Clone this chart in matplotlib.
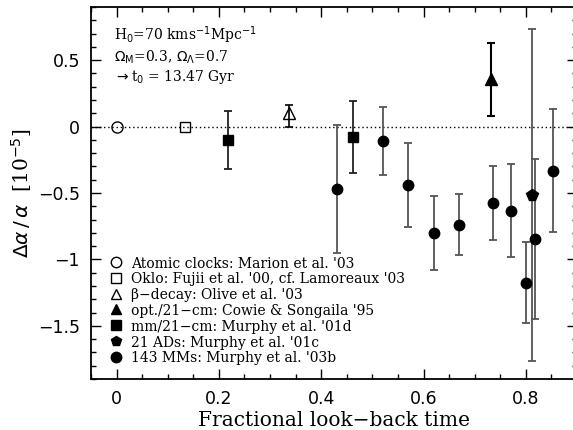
import matplotlib
matplotlib.use("Agg")
import matplotlib.pyplot as plt
from matplotlib.ticker import MultipleLocator, FuncFormatter

# ---- data ----
atomic_x = [0.0]
atomic_y = [0.0]

oklo_x = [0.133]
oklo_y = [0.0]

beta_x = [0.337]
beta_y = [0.10]
beta_lo = [0.10]
beta_hi = [0.06]

cowie_x = [0.731]
cowie_y = [0.358]
cowie_lo = [0.28]
cowie_hi = [0.27]

mm_x = [0.217, 0.462]
mm_y = [-0.10, -0.076]
mm_err = [0.22, 0.272]

ads_x = [0.812]
ads_y = [-0.515]
ads_err = [1.25]

mms_x = [0.43, 0.52, 0.569, 0.62, 0.669, 0.736, 0.771, 0.80, 0.818, 0.854]
mms_y = [-0.47, -0.106, -0.44, -0.80, -0.738, -0.573, -0.635, -1.175, -0.846, -0.332]
mms_err = [0.485, 0.255, 0.313, 0.28, 0.23, 0.278, 0.35, 0.307, 0.603, 0.463]

legend_labels = [
    "Atomic clocks: Marion et al. '03",
    "Oklo: Fujii et al. '00, cf. Lamoreaux '03",
    "\u03b2\u2212decay: Olive et al. '03",
    "opt./21\u2212cm: Cowie & Songaila '95",
    "mm/21\u2212cm: Murphy et al. '01d",
    "21 ADs: Murphy et al. '01c",
    "143 MMs: Murphy et al. '03b",
]
legend_markers = ["o", "s", "^", "^", "s", "p", "o"]
legend_filled = [False, False, False, True, True, True, True]

serif = "DejaVu Serif"

fig = plt.figure(figsize=(5.73, 4.30), dpi=100)
ax = fig.add_axes([91/573, 1-379/430, (577-91)/573, (379-7)/430])
ax.set_xlim(-0.05, 0.9)
ax.set_ylim(-1.9, 0.9)

ax.axhline(0, color="black", lw=1.0, ls=(0, (1, 2)), zorder=1)

ms = 7.5
ax.errorbar(mms_x, mms_y, yerr=mms_err, fmt="o", color="black", ms=ms,
            ecolor="#555555", elinewidth=1.3, capsize=3, capthick=1.3, zorder=3)
ax.errorbar(ads_x, ads_y, yerr=ads_err, fmt="p", color="black", ms=ms+1,
            ecolor="#555555", elinewidth=1.3, capsize=3, capthick=1.3, zorder=3)
ax.errorbar(mm_x, mm_y, yerr=mm_err, fmt="s", color="black", ms=ms,
            ecolor="#222222", elinewidth=1.3, capsize=3, capthick=1.3, zorder=3)
ax.errorbar(cowie_x, cowie_y, yerr=[cowie_lo, cowie_hi], fmt="^", color="black",
            ms=ms+1, ecolor="black", elinewidth=1.5, capsize=3, capthick=1.5, zorder=3)
ax.errorbar(beta_x, beta_y, yerr=[beta_lo, beta_hi], fmt="^", mfc="none", mec="black",
            ms=ms+1, ecolor="black", elinewidth=1.2, capsize=3, capthick=1.2, zorder=3)
ax.plot(oklo_x, oklo_y, "s", mfc="none", mec="black", ms=ms, zorder=3)
ax.plot(atomic_x, atomic_y, "o", mfc="none", mec="black", ms=ms+0.5, zorder=3)

# manual legend (axes-fraction layout)
row0 = (379 - 262) / 372.0
drow = 15.8 / 372.0
mx = (116 - 91) / 486.0
tx = (131 - 91) / 486.0
for i, (lab, mk, filled) in enumerate(zip(legend_labels, legend_markers, legend_filled)):
    yy = row0 - i * drow
    ax.plot([mx], [yy], marker=mk, ls="none", transform=ax.transAxes,
            ms=7.5 if mk != "s" else 7, mec="black",
            mfc="black" if filled else "none", mew=1.0, clip_on=False)
    ax.text(tx, yy, lab, transform=ax.transAxes, ha="left", va="center_baseline",
            family=serif, fontsize=10)

# top-left annotation
ax.text(0.047, 0.952, r"H$_0$=70 kms$^{-1}$Mpc$^{-1}$" "\n"
        r"$\Omega_{\rm M}$=0.3, $\Omega_\Lambda$=0.7" "\n"
        r"$\rightarrow$t$_0$ = 13.47 Gyr",
        transform=ax.transAxes, ha="left", va="top", family=serif,
        fontsize=10, linespacing=1.15)

# ticks
ax.xaxis.set_major_locator(MultipleLocator(0.2))
ax.xaxis.set_minor_locator(MultipleLocator(0.05))
ax.yaxis.set_major_locator(MultipleLocator(0.5))
ax.yaxis.set_minor_locator(MultipleLocator(0.1))
fmt = FuncFormatter(lambda v, p: ("%g" % round(v, 3)).replace("-", "\u2212") if abs(v) > 1e-9 else "0")
ax.xaxis.set_major_formatter(fmt)
ax.yaxis.set_major_formatter(fmt)
ax.tick_params(which="both", direction="in", top=True, right=True, width=1.0,
               labelsize=12.5)
ax.tick_params(which="major", length=7, pad=8)
ax.tick_params(which="minor", length=3.5)
for s in ax.spines.values():
    s.set_linewidth(1.3)

ax.set_xlabel("Fractional look\u2212back time", family=serif, fontsize=14.5, labelpad=2)
ax.set_ylabel(r"$\Delta\alpha\,/\,\alpha$  [10$^{-5}$]", family=serif, fontsize=14.5, labelpad=3)

fig.savefig("out.png", dpi=100)
